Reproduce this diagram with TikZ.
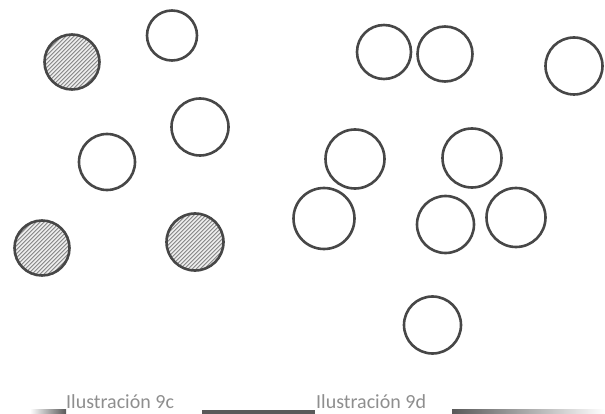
\documentclass[tikz,border=0pt]{standalone}
\usepackage{fontspec}
\newfontfamily\captfont{Carlito}
\definecolor{rimgray}{HTML}{474747}
\definecolor{hatchgray}{HTML}{5E5E5E}
\definecolor{captgray}{HTML}{8E8E8E}
\definecolor{rulegray}{HTML}{595959}

\begin{document}
\begin{tikzpicture}[x=1pt, y=-1pt,
  ball/.style={circle, draw=rimgray, line width=2.6pt, inner sep=0pt, fill=white},
  hatched/.style={ball, path picture={
      \foreach \k in {-64,-60,...,64}
        \draw[hatchgray!80, line width=0.9pt, shift={(path picture bounding box.center)}]
          (\k-34,34) -- (\k+34,-34);
      \foreach \k in {-62,-58,...,62}
        \draw[hatchgray!40, line width=0.8pt, shift={(path picture bounding box.center)}]
          (\k-34,33) -- (\k+33,-34);
    }},
  capt/.style={text=captgray, font=\captfont\fontsize{20}{24}\selectfont, inner sep=0pt}]
\useasboundingbox (0,0) rectangle (605,414);

% Left group (9c)
\foreach \n/\x/\y/\d in {c2/172/35.5/50, c3/200/127/57, c4/107/162/56}
  \node[ball, minimum size=\d pt] (\n) at (\x,\y) {};
\foreach \n/\x/\y/\d in {c1/72/62/55, c5/42/248/55, c6/195/242/57}
  \node[hatched, minimum size=\d pt] (\n) at (\x,\y) {};

% Right group (9d)
\foreach \n/\x/\y/\d in {d1/384/52/54, d2/445/54/55, d3/574/66/57,
    d4/355/159/59, d5/472/158/59, d6/324/218.5/61,
    d7/445.5/224.5/57, d8/516/217.5/59, d9/432.5/325/57}
  \node[ball, minimum size=\d pt] (\n) at (\x,\y) {};

% Captions and rules along the bottom
\shade[left color=white, right color=rulegray] (30,409.5) rectangle (66,414);
\fill[rulegray] (202,409.5) rectangle (315,414);
\shade[left color=rulegray, right color=white] (452,409.5) rectangle (605,414);
\node[capt, anchor=base west] (cap9c) at (66,408.5) {Ilustración 9c};
\node[capt, anchor=base west] (cap9d) at (316,408.5) {Ilustración 9d};
\end{tikzpicture}
\end{document}
